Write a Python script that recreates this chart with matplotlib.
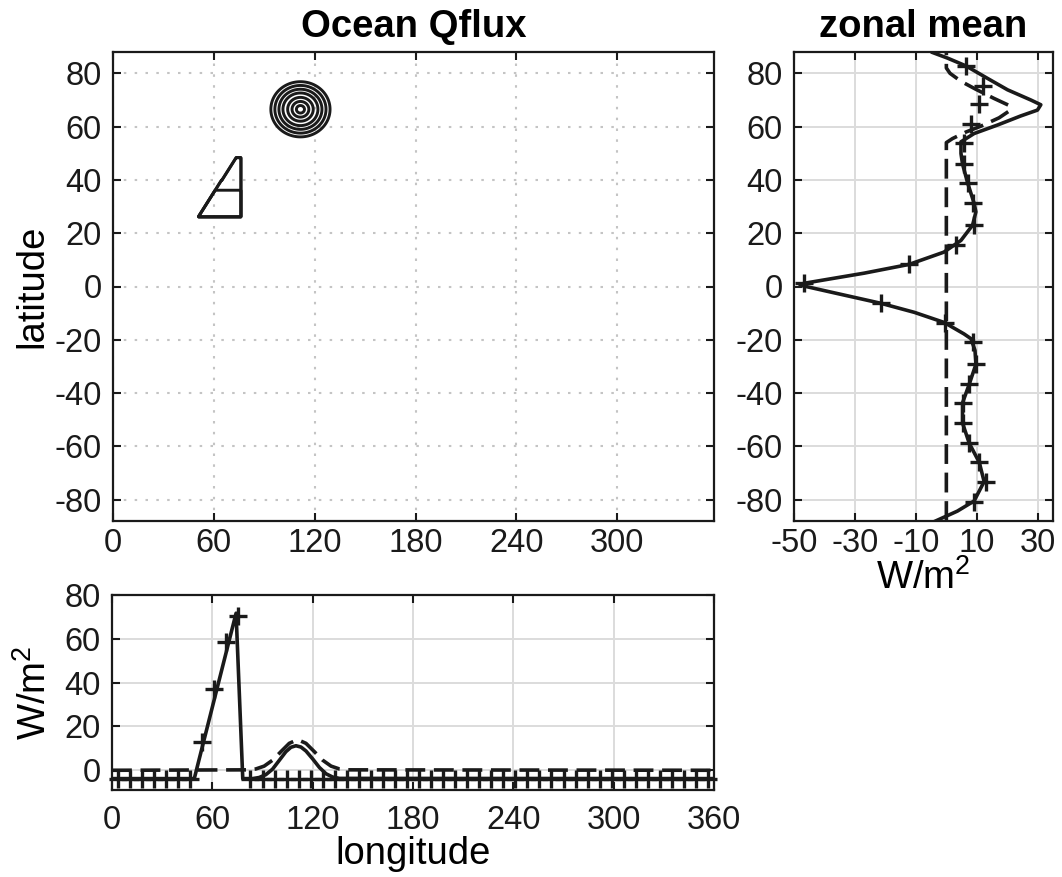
import numpy as np
import matplotlib
matplotlib.use('Agg')
import matplotlib.pyplot as plt
from matplotlib.path import Path

plt.rcParams['font.family'] = ['Liberation Sans', 'DejaVu Sans']
plt.rcParams['mathtext.fontset'] = 'custom'
plt.rcParams['mathtext.rm'] = 'Liberation Sans'
plt.rcParams['mathtext.it'] = 'Liberation Sans:italic'
plt.rcParams['mathtext.bf'] = 'Liberation Sans:bold'
plt.rcParams['axes.unicode_minus'] = False

# ---------------- data ----------------
# map: ring-shaped bump and triangular patch
bump_lon0, bump_lat0 = 111.5, 66.5
bump_rlon, bump_rlat = 17.6, 10.35
ring_fractions = [1.0, 0.864, 0.727, 0.591, 0.432, 0.284, 0.136]
tri_lon = [50.6, 76.2, 76.2, 73.2]
tri_lat = [26.1, 26.1, 48.3, 48.3]
tri_split_lat = 36.2
tri_upper_value = 0.30
tri_lower_value = 0.45

# zonal mean, solid line
zonal_lat = [-88.5, -84.3, -80.5, -73.2, -66.0, -58.8, -51.2, -43.7, -36.7, -29.2,
             -24.0, -19.6, -17.8, -13.5, -9.7, -6.3, -2.1, 0.5, 1.2, 2.9, 5.0,
             8.3, 12.9, 17.3, 23.0, 28.0, 31.3, 38.8, 46.0, 49.9, 54.3, 57.4,
             60.6, 64.0, 66.2, 68.2, 70.0, 73.8, 78.1, 82.8, 85.7, 87.8]
zonal_val = [-4.5, 3.6, 9.1, 12.4, 10.8, 7.5, 5.3, 5.3, 7.5, 9.7,
             9.4, 8.1, 5.8, -0.7, -10.5, -21.5, -37.9, -48.0, -46.7, -37.9, -27.0,
             -12.2, -0.8, 4.8, 8.6, 9.7, 9.1, 7.0, 5.3, 4.8, 4.8, 9.1,
             16.8, 24.4, 29.9, 31.0, 27.7, 20.1, 13.5, 6.4, 0.4, -4.5]

# zonal mean, dashed line
zdash_lat = [-88.0, 54.0, 55.5, 58.0, 60.2, 63.3, 66.0, 67.5, 68.1, 70.6,
             74.0, 77.0, 80.0, 82.0, 88.0]
zdash_val = [0.0, 0.0, 2.0, 6.5, 11.4, 17.3, 20.8, 21.0, 20.3, 15.6,
             9.7, 4.8, 1.2, 0.0, 0.0]

# zonal mean, '+' markers
zmark_lat = [82.8, 75.2, 68.3, 60.8, 53.9, 46.0, 38.8, 31.3, 23.0, 15.5, 8.3,
             1.2, -6.3, -13.8, -21.0, -29.2, -36.7, -43.7, -51.2, -58.8, -66.0,
             -73.2, -81.0]
zmark_val = [6.4, 11.9, 10.8, 8.1, 5.8, 5.8, 7.0, 8.6, 9.1, 3.1, -12.2,
             -46.7, -21.5, -0.4, 8.6, 9.7, 7.5, 5.3, 5.3, 7.5, 10.8,
             13.0, 9.1]

# meridional mean (bottom panel), solid line
mer_lon = [0, 49.2, 74.2, 78.2, 84, 88, 92, 96, 100, 104, 107, 110, 113, 116,
           120, 124, 128, 132, 136, 360]
mer_val = [-3.8, -3.8, 71.7, -3.8, -3.8, -3.3, -2.0, 0.5, 4.5, 8.5, 10.5, 11.2,
           10.6, 8.8, 5.2, 1.3, -1.6, -3.1, -3.7, -3.8]

# meridional mean, dashed line
mdash_lon = [0, 81, 86, 91, 96, 101, 106, 111, 116, 121, 126, 131, 136, 141, 360]
mdash_val = [0, 0.2, 0.6, 1.9, 4.6, 8.5, 12.3, 14.0, 12.3, 8.5, 4.6, 1.9, 0.6,
             0.2, 0]

# meridional mean, '+' markers (coarse grid, 7.2 deg spacing)
mmark_lon = list(np.arange(3.6, 360, 7.2))
mmark_val = [-3.8] * 7 + [13.0, 37.0, 58.5, 70.5] + [-3.8] * 39

# ---------------- figure ----------------
W, H = 1062, 877
fig = plt.figure(figsize=(W / 100, H / 100), dpi=100)

def px_axes(x0, y0, x1, y1):
    return fig.add_axes([x0 / W, 1 - y1 / H, (x1 - x0) / W, (y1 - y0) / H])

ax_map = px_axes(113, 52, 714, 521)
ax_zon = px_axes(794, 52, 1053, 521)
ax_mer = px_axes(112, 595, 714, 790)

TICK_FS = 23.5
LABEL_FS = 27.5
TITLE_FS = 27.5
LW = 2.6
INK = '#1a1a1a'

def style(ax, grid_style, xpad=5):
    for s in ax.spines.values():
        s.set_linewidth(1.6)
        s.set_color(INK)
    ax.tick_params(direction='in', length=5.5, width=1.5, top=True, right=True,
                   labelsize=TICK_FS, colors=INK)
    ax.tick_params(axis='x', pad=xpad)
    ax.tick_params(axis='y', pad=8)
    ax.set_axisbelow(True)
    if grid_style == 'dotted':
        ax.grid(True, color='#c4c4c4', linestyle=(0, (1.2, 4.0)), linewidth=1.5)
    else:
        ax.grid(True, color='#dcdcdc', linestyle='-', linewidth=1.4)

# --- map panel ---
lon = np.arange(0, 360.01, 0.25)
lat = np.arange(-88, 88.01, 0.25)
LON, LAT = np.meshgrid(lon, lat)
rr = np.sqrt(((LON - bump_lon0) / bump_rlon) ** 2 + ((LAT - bump_lat0) / bump_rlat) ** 2)
field = np.clip(1.1 - rr, 0, None)
tri_path = Path(np.column_stack([tri_lon, tri_lat]))
inside = tri_path.contains_points(np.column_stack([LON.ravel(), LAT.ravel()])).reshape(LON.shape)
field = field + np.where(inside & (LAT >= tri_split_lat), tri_upper_value, 0.0)
field = field + np.where(inside & (LAT < tri_split_lat), tri_lower_value, 0.0)
levels = sorted(1.1 - np.array(ring_fractions))
ax_map.contour(LON, LAT, field, levels=levels, colors=INK, linewidths=2.1)
ax_map.set_xlim(0, 357.5)
ax_map.set_ylim(-88, 88)
ax_map.set_xticks([0, 60, 120, 180, 240, 300])
ax_map.set_yticks(np.arange(-80, 81, 20))
style(ax_map, 'dotted')
ax_map.set_ylabel('latitude', fontsize=LABEL_FS, labelpad=3)
ax_map.set_title('Ocean Qflux', fontsize=TITLE_FS, fontweight='bold', pad=11)

# --- zonal mean panel ---
ax_zon.plot(zonal_val, zonal_lat, '-', color=INK, lw=LW, solid_joinstyle='round')
ax_zon.plot(zdash_val, zdash_lat, '--', color=INK, lw=LW, dashes=(5.5, 2.4))
ax_zon.plot(zmark_val, zmark_lat, '+', color=INK, ms=13, mew=2.4, ls='none',
            clip_on=False)
ax_zon.set_xlim(-50, 35)
ax_zon.set_ylim(-88, 88)
ax_zon.set_xticks([-50, -30, -10, 10, 30])
ax_zon.set_yticks(np.arange(-80, 81, 20))
style(ax_zon, 'solid')
ax_zon.set_xlabel('W/m$^2$', fontsize=LABEL_FS, labelpad=0)
ax_zon.set_title('zonal mean', fontsize=TITLE_FS, fontweight='bold', pad=11)

# --- meridional mean panel ---
ax_mer.plot(mer_lon, mer_val, '-', color=INK, lw=LW, solid_joinstyle='round')
ax_mer.plot(mdash_lon, mdash_val, '--', color=INK, lw=LW, dashes=(5.5, 2.4))
ax_mer.plot(mmark_lon, mmark_val, '+', color=INK, ms=13, mew=2.4, ls='none',
            clip_on=False)
ax_mer.set_xlim(0, 360)
ax_mer.set_ylim(-9, 80)
ax_mer.set_xticks(np.arange(0, 361, 60))
ax_mer.set_yticks(np.arange(0, 81, 20))
style(ax_mer, 'solid', xpad=11)
ax_mer.set_xlabel('longitude', fontsize=LABEL_FS, labelpad=0)
ax_mer.set_ylabel('W/m$^2$', fontsize=LABEL_FS, labelpad=8)

fig.savefig('out.png', dpi=100)
